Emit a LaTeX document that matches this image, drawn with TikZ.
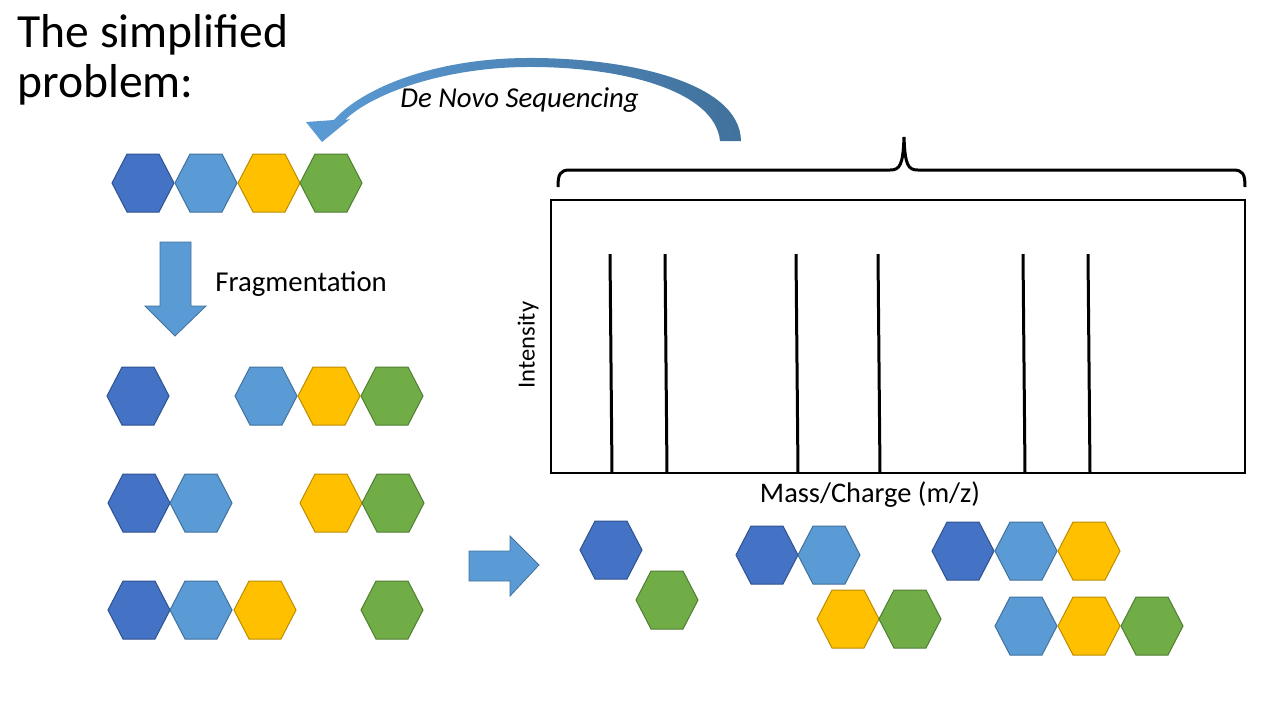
\documentclass[tikz,border=0pt]{standalone}
\usepackage{fontspec}
\setmainfont{Carlito}
\usetikzlibrary{positioning}

\definecolor{dblue}{HTML}{4472C4}
\definecolor{dblueb}{HTML}{2F528F}
\definecolor{lblue}{HTML}{5B9BD5}
\definecolor{lblueb}{HTML}{41719C}
\definecolor{yell}{HTML}{FFC000}
\definecolor{yellb}{HTML}{BC8C00}
\definecolor{grn}{HTML}{70AD47}
\definecolor{grnb}{HTML}{507E32}
\definecolor{arrdark}{HTML}{41719C}

\tikzset{
  blockarrow/.style={fill=lblue, draw=lblueb, line width=0.4pt},
  peak/.style={line width=1.5pt},
  brace/.style={line width=1.5pt},
  label/.style={inner sep=0pt, font=\fontsize{14.2}{17}\selectfont},
}

% hexagon: centre x, centre y, colour
\newcommand{\hexa}[3]{%
  \filldraw[fill=#3, draw=#3b, line width=0.5pt, shift={(#1,#2)}]
    (-31,0) -- (-16,-29) -- (16,-29) -- (31,0) -- (16,29) -- (-16,29) -- cycle;
}

\begin{document}
\begin{tikzpicture}[x=0.5pt, y=-0.5pt]
  \useasboundingbox (0,0) rectangle (1280,720);

  % Titel
  \node[anchor=base west, inner sep=0pt, font=\fontsize{23.8}{28}\selectfont] (title1) at (17,47) {The simplified};
  \node[anchor=base west, inner sep=0pt, font=\fontsize{23.8}{28}\selectfont] (title2) at (17,97) {problem:};

  % Peptid
  \hexa{143}{183}{dblue}
  \hexa{206}{183}{lblue}
  \hexa{269}{183}{yell}
  \hexa{331}{183}{grn}

  % Fragmentierung
  \draw[blockarrow] (160,242) -- (191,242) -- (191,306) -- (206,306) -- (175,336)
    -- (145,306) -- (160,306) -- cycle;
  \node[anchor=base west, inner sep=0pt, font=\fontsize{14.4}{17}\selectfont] (frag) at (215,291) {Fragmentation};

  % Fragmente
  \hexa{138}{396}{dblue}
  \hexa{266}{396}{lblue}
  \hexa{329}{396}{yell}
  \hexa{392}{396}{grn}

  \hexa{139}{503}{dblue}
  \hexa{201}{503}{lblue}
  \hexa{331}{503}{yell}
  \hexa{393}{503}{grn}

  \hexa{139}{610}{dblue}
  \hexa{201}{610}{lblue}
  \hexa{265}{610}{yell}
  \hexa{392}{610}{grn}

  \draw[blockarrow] (469,551) -- (510,551) -- (510,536) -- (539,565) -- (510,596)
    -- (510,581) -- (469,581) -- cycle;

  % Spektrum
  \node[draw, line width=0.6pt, minimum width=347pt, minimum height=136.5pt, inner sep=0pt] (plot) at (898,336.5) {};
  \foreach \px in {610,665,796,878,1023,1088}
    \draw[peak] (\px,254) -- (\px+2,473);
  \node[label, below=4pt of plot, xshift=-14pt] (xlab) {Mass/Charge (m/z)};
  \node[label, font=\fontsize{12.3}{14}\selectfont, rotate=90, anchor=south] (ylab) at (539,345) {Intensity};

  % Klammer
  \draw[brace] (558,187) .. controls (558,174) and (560,170) .. (570,170) -- (890,170)
    .. controls (900,170) and (903,165) .. (904,137)
    .. controls (905,165) and (908,170) .. (918,170) -- (1233,170)
    .. controls (1243,170) and (1245,174) .. (1245,187);

  % De novo Pfeil
  \shade[left color=lblue, right color=arrdark]
    (741,141) .. controls (740,80) and (620,57) .. (525,58)
    .. controls (430,59) and (360,90) .. (334,120)
    -- (306,122) -- (322,142) -- (350,119) -- (345,120)
    .. controls (370,95) and (440,68) .. (525,67)
    .. controls (620,66) and (715,90) .. (720,141) -- cycle;
  \node[anchor=base west, inner sep=0pt, font=\fontsize{14.4}{17}\selectfont\itshape] (denovo) at (400,107) {De Novo Sequencing};

  % Fragmente im Spektrum
  \hexa{611}{550}{dblue}
  \hexa{667}{600}{grn}

  \hexa{767}{555}{dblue}
  \hexa{829}{555}{lblue}
  \hexa{848}{619}{yell}
  \hexa{910}{619}{grn}

  \hexa{963}{551}{dblue}
  \hexa{1026}{551}{lblue}
  \hexa{1089}{551}{yell}
  \hexa{1026}{626}{lblue}
  \hexa{1089}{626}{yell}
  \hexa{1152}{626}{grn}
\end{tikzpicture}
\end{document}
